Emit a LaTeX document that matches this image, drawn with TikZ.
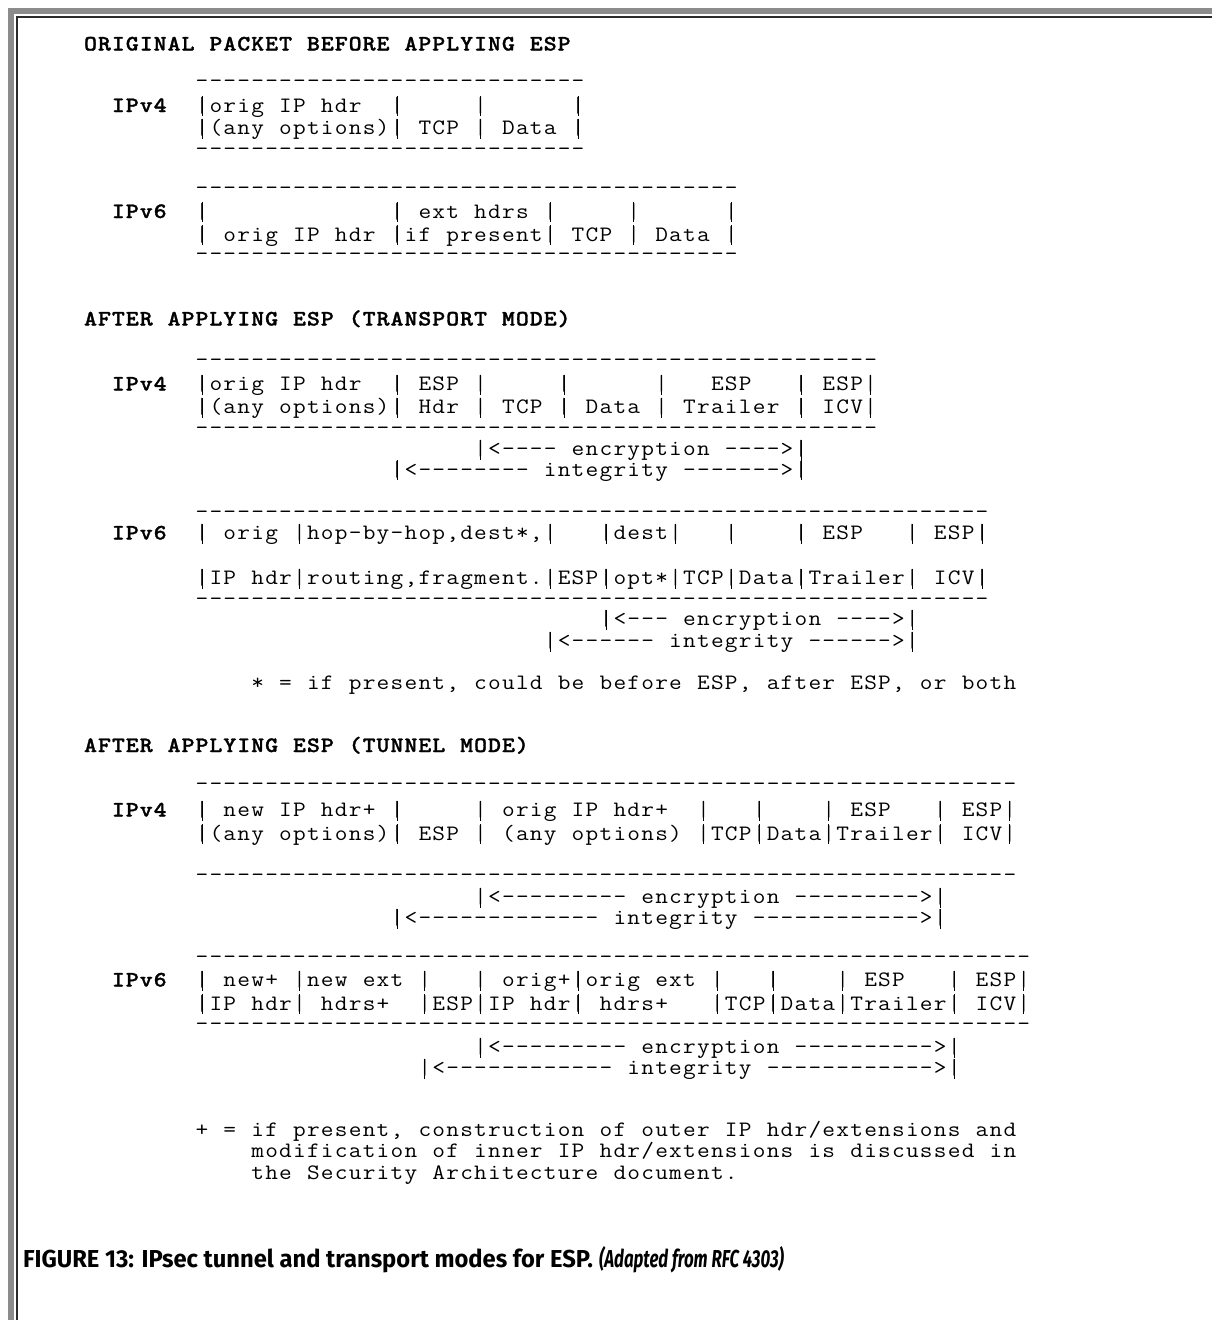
\documentclass[tikz,border=0pt]{standalone}
\usepackage{fontspec}
\usepackage{graphicx}
\newfontfamily\capfont{Fira Sans}
\newfontfamily\hdrmono{lmmonolt10-bold.otf}[FakeBold=1.2]
\definecolor{framegray}{HTML}{8C8C8C}
\definecolor{framedark}{HTML}{2B2B2B}
\newcommand\mfont{\ttfamily\fontsize{22}{22}\selectfont}
\newcommand\bfont{\hdrmono\fontsize{22}{22}\selectfont}
\ExplSyntaxOn
\dim_new:N \g_asc_cw_dim
\dim_gset:Nn \g_asc_cw_dim {13.93pt}
\box_new:N \l_asc_glyph_box
\cs_new_protected:Npn \asc_bar:
  {
    \hbox_overlap_right:n
      {
        \hbox_to_wd:nn {\g_asc_cw_dim}
          { \hss \rule[-4pt]{0.85pt}{20pt} \hss }
      }
    \hbox_to_wd:nn {\g_asc_cw_dim} { \hss | \hss }
  }
\cs_new_protected:Npn \asc_glyph:n #1
  {
    \hbox_set:Nn \l_asc_glyph_box {#1}
    \box_scale:Nnn \l_asc_glyph_box {1.12} {1}
    \hbox_to_wd:nn {\g_asc_cw_dim} { \hss \box_use:N \l_asc_glyph_box \hss }
  }
\cs_new_protected:Npn \asciiline #1
  {
    \str_map_inline:nn {#1}
      {
        \str_case:nnF {##1}
          {
            {_} { \hbox_to_wd:nn {\g_asc_cw_dim} { } }
            {|} { \asc_bar: }
          }
          { \asc_glyph:n {##1} }
      }
  }
\cs_new_protected:Npn \dashrow #1
  {
    \prg_replicate:nn {#1} { \asc_glyph:n {-} }
  }
\ExplSyntaxOff
\tikzset{
  txt/.style={anchor=base west, inner sep=0pt, outer sep=0pt, font=\mfont},
  hdr/.style={anchor=base west, inner sep=0pt, outer sep=0pt, font=\bfont},
  captxt/.style={anchor=base west, inner sep=0pt, outer sep=0pt}
}
\newcommand\Row[5][txt]{\node[#1] (#2) at ({195+13.93*(#3)},#4) {\asciiline{#5}};}
\newcommand\Dash[4]{\node[txt] (#1) at ({195+13.93*(#2)},#3) {\dashrow{#4}};}
\begin{document}
\begin{tikzpicture}[x=1pt,y=-1pt]
\useasboundingbox (0,0) rectangle (1212,1320);
% frame
\fill[framegray] (8,8) rectangle (1212,14);
\fill[framegray] (8,8) rectangle (14,1320);
\fill[framedark] (16,16) rectangle (1212,18);
\fill[framedark] (16,16) rectangle (18,1320);

% ---------- ORIGINAL PACKET ----------
\Row[hdr]{h1}{-8}{50.5}{ORIGINAL_PACKET_BEFORE_APPLYING_ESP}
\Row[hdr]{o4l}{-6}{112}{IPv4}
\Dash{o4a}{0}{87.5}{28}
\Row{o4b}{0}{112}{|orig_IP_hdr__|_____|______|}
\Row{o4c}{0}{134.5}{|(any_options)|_TCP_|_Data_|}
\Dash{o4d}{0}{155.5}{28}

\Row[hdr]{o6l}{-6}{218}{IPv6}
\Dash{o6a}{0}{194}{39}
\Row{o6b}{0}{218}{|_____________|_ext_hdrs_|_____|______|}
\Row{o6c}{0}{241}{|_orig_IP_hdr_|if_present|_TCP_|_Data_|}
\Dash{o6d}{0}{260.5}{39}

% ---------- TRANSPORT MODE ----------
\Row[hdr]{h2}{-8}{325.5}{AFTER_APPLYING_ESP_(TRANSPORT_MODE)}
\Row[hdr]{t4l}{-6}{390.5}{IPv4}
\Dash{t4a}{0}{366.5}{49}
\Row{t4b}{0}{390.5}{|orig_IP_hdr__|_ESP_|_____|______|___ESP___|_ESP|}
\Row{t4c}{0}{413.5}{|(any_options)|_Hdr_|_TCP_|_Data_|_Trailer_|_ICV|}
\Dash{t4d}{0}{434.5}{49}
\Row{t4e}{20}{455.5}{|<----_encryption_---->|}
\Row{t4f}{14}{476}{|<--------_integrity_------->|}

\Row[hdr]{t6l}{-6}{539.5}{IPv6}
\Dash{t6a}{0}{518.5}{57}
\Row{t6b}{0}{539.5}{|_orig_|hop-by-hop,dest*,|___|dest|___|____|_ESP___|_ESP|}
\Row{t6c}{0}{584.5}{|IP_hdr|routing,fragment.|ESP|opt*|TCP|Data|Trailer|_ICV|}
\Dash{t6d}{0}{605}{57}
\Row{t6e}{29}{625.5}{|<---_encryption_---->|}
\Row{t6f}{25}{647.5}{|<------_integrity_------>|}
\Row{star}{4}{689.5}{*_=_if_present,_could_be_before_ESP,_after_ESP,_or_both}

% ---------- TUNNEL MODE ----------
\Row[hdr]{h3}{-8}{752}{AFTER_APPLYING_ESP_(TUNNEL_MODE)}
\Row[hdr]{u4l}{-6}{816.5}{IPv4}
\Dash{u4a}{0}{790}{59}
\Row{u4b}{0}{816.5}{|_new_IP_hdr+_|_____|_orig_IP_hdr+__|___|____|_ESP___|_ESP|}
\Row{u4c}{0}{840}{|(any_options)|_ESP_|_(any_options)_|TCP|Data|Trailer|_ICV|}
\Dash{u4d}{0}{881}{59}
\Row{u4e}{20}{903.5}{|<---------_encryption_--------->|}
\Row{u4f}{14}{924.5}{|<-------------_integrity_------------>|}

\Row[hdr]{u6l}{-6}{986.5}{IPv6}
\Dash{u6a}{0}{963.5}{60}
\Row{u6b}{0}{986.5}{|_new+_|new_ext_|___|_orig+|orig_ext_|___|____|_ESP___|_ESP|}
\Row{u6c}{0}{1010}{|IP_hdr|_hdrs+__|ESP|IP_hdr|_hdrs+___|TCP|Data|Trailer|_ICV|}
\Dash{u6d}{0}{1030.5}{60}
\Row{u6e}{20}{1053.5}{|<---------_encryption_---------->|}
\Row{u6f}{16}{1074.5}{|<------------_integrity_------------>|}

\Row{n1}{0}{1136.5}{+_=_if_present,_construction_of_outer_IP_hdr/extensions_and}
\Row{n2}{4}{1157.5}{modification_of_inner_IP_hdr/extensions_is_discussed_in}
\Row{n3}{4}{1179}{the_Security_Architecture_document.}

% ---------- caption ----------
\node[captxt] (cap) at (23,1267) {\resizebox{570pt}{\height}{\capfont\bfseries\fontsize{24.5}{24.5}\selectfont FIGURE 13: IPsec tunnel and transport modes for ESP.}};
\node[captxt] (capb) at ([xshift=6pt]cap.base east) {\resizebox{185pt}{\height}{\capfont\bfseries\itshape\fontsize{24.5}{24.5}\selectfont (Adapted from RFC 4303)}};
\end{tikzpicture}
\end{document}
